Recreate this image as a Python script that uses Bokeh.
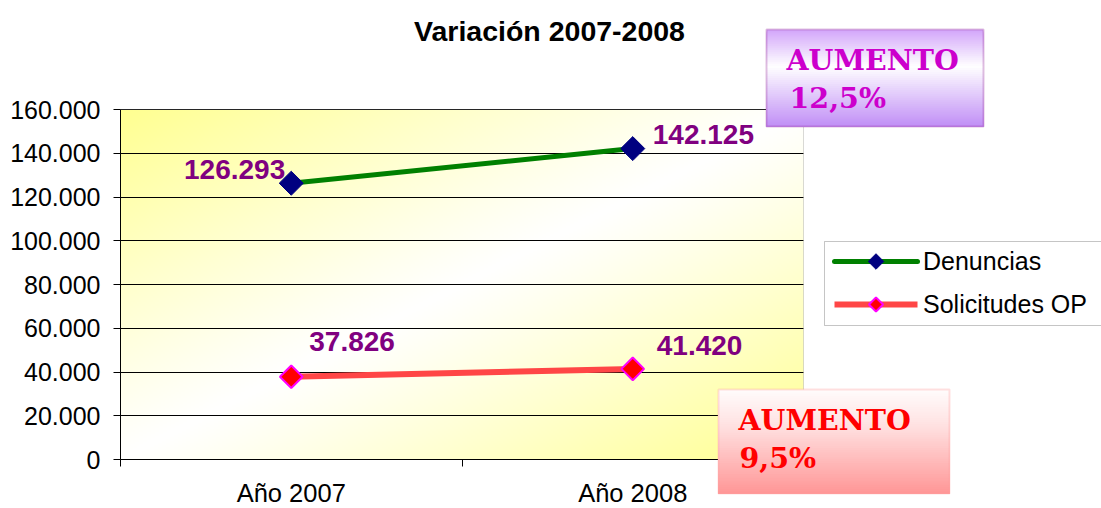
import numpy as np
from bokeh.plotting import figure
from bokeh.models import (Range1d, FixedTicker, BoxAnnotation, Label, Grid,
                          Legend, LegendItem, ColumnDataSource)
from bokeh.core.properties import value
from bokeh.embed import file_html
from bokeh.resources import INLINE

# ---------------- data ----------------
categories = ["Año 2007", "Año 2008"]
denuncias = [126293, 142125]
solicitudes = [37826, 41420]
series_names = ["Denuncias", "Solicitudes OP"]
y_ticks = [0, 20000, 40000, 60000, 80000, 100000, 120000, 140000, 160000]
y_tick_labels = ["0", "20.000", "40.000", "60.000", "80.000", "100.000",
                 "120.000", "140.000", "160.000"]
title_text = "Variación 2007-2008"
box_purple_lines = ["AUMENTO", "12,5%"]
box_red_lines = ["AUMENTO", "9,5%"]

# ---------------- geometry (canvas px) ----------------
W, H = 1101, 508
PL, PT, PR, PB = 120, 109, 803, 459      # plot area in canvas px
NCAT = len(categories)
YMAX = 160000


def dx(sx):  # canvas x -> data x
    return (sx - PL) / (PR - PL) * NCAT


def dy(sy):  # canvas y -> data y
    return (PB - sy) / (PB - PT) * YMAX


def fmt(v):
    return f"{v:,}".replace(",", ".")


xpos = [i + 0.5 for i in range(NCAT)]   # category centres

p = figure(width=W, height=H, x_range=Range1d(dx(0), dx(W)),
           y_range=Range1d(dy(H), dy(0)), output_backend="svg",
           toolbar_location=None, min_border=0, title=None,
           x_axis_location="below", y_axis_location="left")
p.background_fill_color = "white"
p.border_fill_color = "white"
p.outline_line_color = None

# plot-area gradient background (yellow -> white -> yellow, diagonal)
gh, gw = 175, 342
rr, cc = np.mgrid[0:gh, 0:gw]
xn = cc / (gw - 1)
top_dist = 1 - rr / (gh - 1)
d = (xn + top_dist) / 2
f = np.clip(np.abs(d - 0.5) * 2, 0, 1) ** 1.1
img = np.empty((gh, gw), dtype=np.uint32)
v = img.view(dtype=np.uint8).reshape((gh, gw, 4))
v[..., 0] = 255
v[..., 1] = 255
v[..., 2] = (255 - (255 - 145) * f).astype(np.uint8)
v[..., 3] = 255
p.image_rgba(image=[img], x=0, y=0, dw=NCAT, dh=YMAX, level="image")

# axes (fixed inside the frame)
ya = p.yaxis[0]
ya.fixed_location = 0
ya.bounds = (0, YMAX)
ya.ticker = FixedTicker(ticks=y_ticks)
ya.major_label_overrides = {t: l for t, l in zip(y_ticks, y_tick_labels)}
ya.major_label_text_font = "Liberation Sans"
ya.major_label_text_font_size = "25px"
ya.major_label_text_color = "black"
ya.major_tick_out = 7
ya.major_tick_in = 0
ya.minor_tick_line_color = None
ya.major_label_standoff = 13
ya.axis_line_color = "black"
ya.major_tick_line_color = "black"

xa = p.xaxis[0]
xa.fixed_location = 0
xa.bounds = (0, NCAT)
xa.ticker = FixedTicker(ticks=xpos, minor_ticks=list(range(NCAT + 1)))
xa.major_label_overrides = {t: c for t, c in zip(xpos, categories)}
xa.major_label_text_font = "Liberation Sans"
xa.major_label_text_font_size = "25.5px"
xa.major_label_text_color = "black"
xa.major_tick_line_color = None
xa.major_tick_out = 0
xa.minor_tick_out = 7
xa.minor_tick_in = 0
xa.minor_tick_line_color = "black"
xa.major_label_standoff = 12
xa.axis_line_color = "black"

p.xgrid.grid_line_color = None
p.ygrid.grid_line_color = None
if "cross_bounds" in Grid.properties():
    g = Grid(dimension=1, ticker=FixedTicker(ticks=y_ticks[1:]), bounds=(0, YMAX),
             cross_bounds=(0, NCAT), grid_line_color="black", grid_line_width=1)
    p.add_layout(g)
else:
    p.segment(x0=[0] * (len(y_ticks) - 1), x1=[NCAT] * (len(y_ticks) - 1),
              y0=y_ticks[1:], y1=y_ticks[1:], line_color="black", line_width=1,
              level="underlay")

# plot-area border (grey right edge)
p.add_layout(BoxAnnotation(left=0, right=NCAT, bottom=0, top=YMAX, fill_alpha=0,
                           line_color="#808080", line_width=1, level="underlay"))

# series styles
den_style = dict(line="#008000", lw=5, fill="#000080", edge="#000080", ew=1)
sol_style = dict(line="#ff4646", lw=6, fill="#ff0000", edge="#ff00ff", ew=2)

r1 = p.line(xpos, denuncias, line_color=den_style["line"], line_width=den_style["lw"])
p.scatter(xpos, denuncias, marker="square", angle=np.pi / 4, size=17,
          fill_color=den_style["fill"], line_color=den_style["edge"],
          line_width=den_style["ew"])
r2 = p.line(xpos, solicitudes, line_color=sol_style["line"], line_width=sol_style["lw"])
p.scatter(xpos, solicitudes, marker="square", angle=np.pi / 4, size=16,
          fill_color=sol_style["fill"], line_color=sol_style["edge"],
          line_width=sol_style["ew"])

# data labels
lab_x = xpos + xpos
lab_y = denuncias + solicitudes
lab_t = [fmt(v_) for v_ in lab_y]
lab_src = ColumnDataSource(dict(x=lab_x, y=lab_y, t=lab_t,
                                xo=[-6, 20, 18, 24], yo=[-14, -14, -35, -23],
                                al=["right", "left", "left", "left"]))
p.text(x="x", y="y", text="t", x_offset="xo", y_offset="yo", text_align="al",
       text_baseline="middle", source=lab_src, text_font=value("Liberation Sans"),
       text_font_style="bold", text_font_size="28px", text_color="#800080")

# title
p.add_layout(Label(x=dx(549), y=dy(30), text=title_text, text_align="center",
                   text_baseline="middle", text_font="Liberation Sans",
                   text_font_style="bold", text_font_size="28.5px", text_color="black"))

# ---------------- legend ----------------
LG_L, LG_T, LG_B, LG_PAD, LG_GW, LG_GH, LG_SP = 824, 241, 325, 6, 87, 30, 13
NUDGE_X, NUDGE_Y = 7, 6     # label block correction (px)
# legend frame (drawn beneath the sample glyphs)
p.add_layout(BoxAnnotation(left=dx(LG_L), right=dx(W + 3), top=dy(LG_T), bottom=dy(LG_B),
                           fill_color="white", fill_alpha=1, line_color="#404040",
                           line_width=1, level="underlay"))
# invisible stand-in so the Legend only lays out the labels
blank = p.line(x=[], y=[], line_alpha=0)
legend = Legend(items=[LegendItem(label=series_names[0], renderers=[blank]),
                       LegendItem(label=series_names[1], renderers=[blank])],
                location=(LG_L + NUDGE_X, H - LG_B + NUDGE_Y),
                glyph_width=LG_GW, glyph_height=LG_GH,
                label_standoff=5, padding=LG_PAD, spacing=LG_SP, margin=0,
                border_line_color=None, background_fill_alpha=0,
                label_text_font="Liberation Sans", label_text_font_size="25px",
                label_text_color="black", label_height=LG_GH)
p.add_layout(legend)

# legend sample glyphs: line with a diamond on top
lg_x0 = LG_L + LG_PAD
lg_x1 = lg_x0 + LG_GW
lg_cx = (lg_x0 + lg_x1) / 2
lg_cy2 = LG_B - LG_PAD - LG_GH / 2
lg_cy1 = lg_cy2 - LG_GH - LG_SP
for cy, st, sz, cap in [(lg_cy1, den_style, 11, "round"), (lg_cy2, sol_style, 10, "butt")]:
    p.segment(x0=[dx(lg_x0 + 4)], x1=[dx(lg_x1)], y0=[dy(cy)], y1=[dy(cy)],
              line_color=st["line"], line_width=st["lw"], line_cap=cap)
    p.scatter([dx(lg_cx + 2)], [dy(cy)], marker="square", angle=np.pi / 4, size=sz,
              fill_color=st["fill"], line_color=st["edge"], line_width=st["ew"])


def interp(stops, t):
    for (t0, c0), (t1, c1) in zip(stops[:-1], stops[1:]):
        if t0 <= t <= t1:
            a = (t - t0) / (t1 - t0) if t1 > t0 else 0
            c = [int(round(c0[k] + (c1[k] - c0[k]) * a)) for k in range(3)]
            return "#%02x%02x%02x" % tuple(c)
    c = stops[-1][1]
    return "#%02x%02x%02x" % tuple(c)


def grad_box(x0, y0, x1, y1, stops, border, n=48):
    for i in range(n):
        ytop = y0 + (y1 - y0) * i / n
        col = interp(stops, (i + 0.5) / n)
        p.add_layout(BoxAnnotation(left=dx(x0), right=dx(x1), top=dy(ytop), bottom=dy(y1),
                                   fill_color=col, fill_alpha=1, line_color=None,
                                   line_alpha=0))
    p.add_layout(BoxAnnotation(left=dx(x0), right=dx(x1), top=dy(y0), bottom=dy(y1),
                               fill_alpha=0, line_color=border, line_width=2))


grad_box(766, 29, 983, 126,
         [(0, (210, 165, 250)), (0.38, (255, 255, 255)), (1, (192, 142, 246))], "#993399")
grad_box(718, 389, 949, 493,
         [(0, (255, 252, 252)), (0.35, (255, 225, 225)), (1, (255, 150, 150))], "#ff9a9a")


def box_label(x, y, text, color):
    p.add_layout(Label(x=dx(x), y=dy(y), text=text, text_align="left",
                       text_baseline="middle", text_font="DejaVu Serif",
                       text_font_style="bold", text_font_size="28.5px", text_color=color))


box_label(786, 59, box_purple_lines[0], "#cc00cc")
box_label(789, 97, box_purple_lines[1], "#cc00cc")
box_label(738, 419, box_red_lines[0], "#ff0000")
box_label(739, 457, box_red_lines[1], "#ff0000")

open("out.html", "w").write(file_html(p, INLINE))
